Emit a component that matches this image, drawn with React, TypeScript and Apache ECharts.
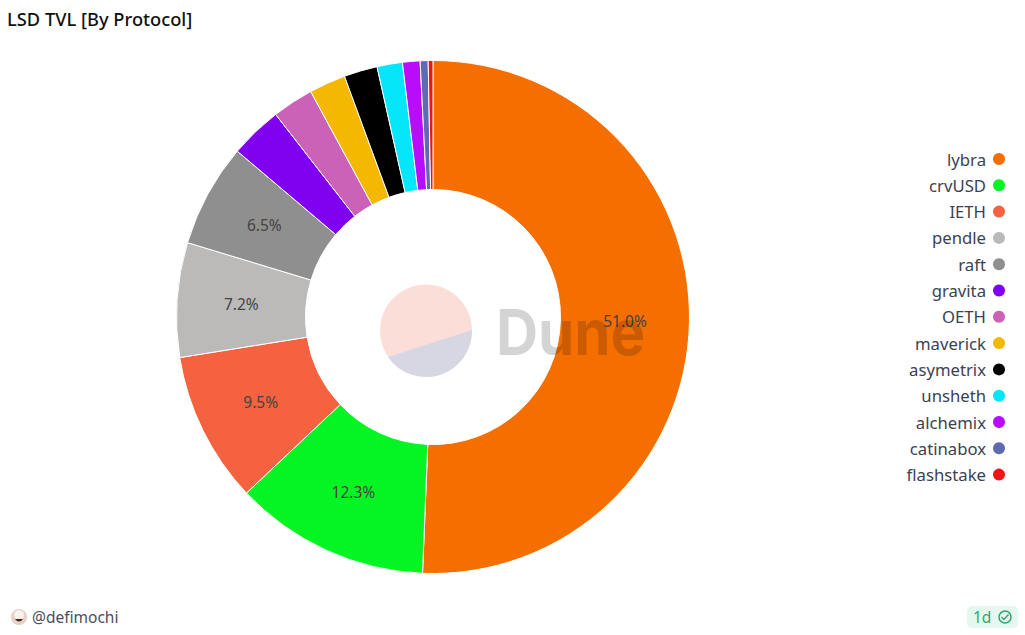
import React, { useEffect, useRef } from "react";
import * as echarts from "echarts";

const categories = ["lybra", "crvUSD", "IETH", "pendle", "raft", "gravita", "OETH", "maverick", "asymetrix", "unsheth", "alchemix", "catinabox", "flashstake"];
const sliceValues = [50.6, 12.3, 9.5, 7.2, 6.5, 3.3, 2.6, 2.3, 2.1, 1.6, 1.1, 0.5, 0.3];
const sliceLabels = ["51.0%", "12.3%", "9.5%", "7.2%", "6.5%", "", "", "", "", "", "", "", ""];
const colors = ["#f56e00", "#05f524", "#f5623f", "#bcb9b9", "#8f8f8f", "#8000f0", "#cb62b8", "#f4b800", "#000000", "#05e6fa", "#b80dfa", "#5f6bb0", "#f01414"];
const titleText = "LSD TVL [By Protocol]";
const authorText = "@defimochi";
const ageText = "1d";
const FONT = "'Noto Sans', sans-serif";
const CX = 433;
const CY = 317;

echarts.graphic.registerShape("duneSegment", echarts.graphic.extendPath("M472 330 A46 46 0 0 1 388 357 Z", {}));
echarts.graphic.registerShape("checkMark", echarts.graphic.extendPath("M1001.5 617 L1004 619.5 L1008.5 614.5", {}));
echarts.graphic.registerShape("avatarSmile", echarts.graphic.extendPath("M15 619 Q19 624 23 619 Z", {}));

export default function App() {
  const ref = useRef<HTMLDivElement>(null);
  useEffect(() => {
    document.body.style.margin = "0";
    const chart = echarts.init(ref.current!, undefined, { renderer: "svg" });
    chart.setOption({
      animation: false,
      backgroundColor: "#ffffff",
      color: colors,
      title: {
        text: titleText,
        left: 7,
        top: 9,
        padding: 0,
        textStyle: { fontFamily: FONT, fontSize: 18.3, fontWeight: 500, color: "#111111" },
      },
      legend: {
        orient: "vertical",
        right: 20,
        top: 150,
        padding: 0,
        align: "right",
        icon: "circle",
        itemWidth: 12,
        itemHeight: 12,
        itemGap: 8.3,
        data: categories,
        selectedMode: false,
        itemStyle: { borderWidth: 0 },
        textStyle: { fontFamily: FONT, fontSize: 16.7, color: "#3c4252", height: 18, lineHeight: 18, padding: [0, 2, 0, 0] },
      },
      series: [
        {
          type: "pie",
          center: [CX, CY],
          radius: [127.5, 256.5],
          startAngle: 90,
          clockwise: true,
          avoidLabelOverlap: false,
          silent: true,
          data: categories.map((name, i) => ({ name, value: sliceValues[i] })),
          itemStyle: { borderColor: "#ffffff", borderWidth: 1 },
          labelLine: { show: false },
          label: {
            show: true,
            position: "inside",
            fontFamily: FONT,
            fontSize: 15.5,
            color: "#444444",
            formatter: (p: any) => sliceLabels[p.dataIndex],
          },
          labelLayout: (p: any) => {
            const r = p.labelRect;
            const lx = r.x + r.width / 2;
            const ly = r.y + r.height / 2;
            return {
              x: CX + (lx - CX) * 0.985,
              y: CY + (ly - CY) * 0.985,
              align: "center",
              verticalAlign: "middle",
            };
          },
        },
      ],
      graphic: [
        { type: "circle", z: 100, shape: { cx: 426, cy: 330.5, r: 46 }, style: { fill: "#fbded8" } },
        { type: "duneSegment", z: 101, style: { fill: "#d7d7e4" } },
        {
          type: "text",
          z: 102,
          x: 496,
          y: 332,
          scaleX: 0.925,
          style: { text: "Dune", fontFamily: "Inter, sans-serif", fontWeight: 700, fontSize: 63, fill: "rgba(0,0,0,0.17)", textAlign: "left", textVerticalAlign: "middle" },
        },
        { type: "circle", shape: { cx: 19, cy: 617, r: 8 }, style: { fill: "#eccfc4" } },
        { type: "circle", shape: { cx: 19, cy: 615, r: 5 }, style: { fill: "#f8f3ef" } },
        { type: "avatarSmile", style: { fill: "#3a2a24" } },
        {
          type: "text",
          x: 32,
          y: 617,
          style: { text: authorText, fontFamily: FONT, fontSize: 15.5, fill: "#4a4f5c", textAlign: "left", textVerticalAlign: "middle" },
        },
        { type: "rect", shape: { x: 967, y: 606, width: 51, height: 22, r: 5 }, style: { fill: "#e6f7ef" } },
        {
          type: "text",
          x: 973,
          y: 617,
          style: { text: ageText, fontFamily: FONT, fontSize: 15.5, fill: "#2fa673", textAlign: "left", textVerticalAlign: "middle" },
        },
        { type: "circle", shape: { cx: 1005, cy: 617, r: 6 }, style: { fill: "none", stroke: "#2fa673", lineWidth: 1.4 } },
        { type: "checkMark", style: { fill: "none", stroke: "#2fa673", lineWidth: 1.4 } },
      ],
    });
    return () => chart.dispose();
  }, []);
  return <div ref={ref} style={{ width: 1025, height: 635 }} />;
}
